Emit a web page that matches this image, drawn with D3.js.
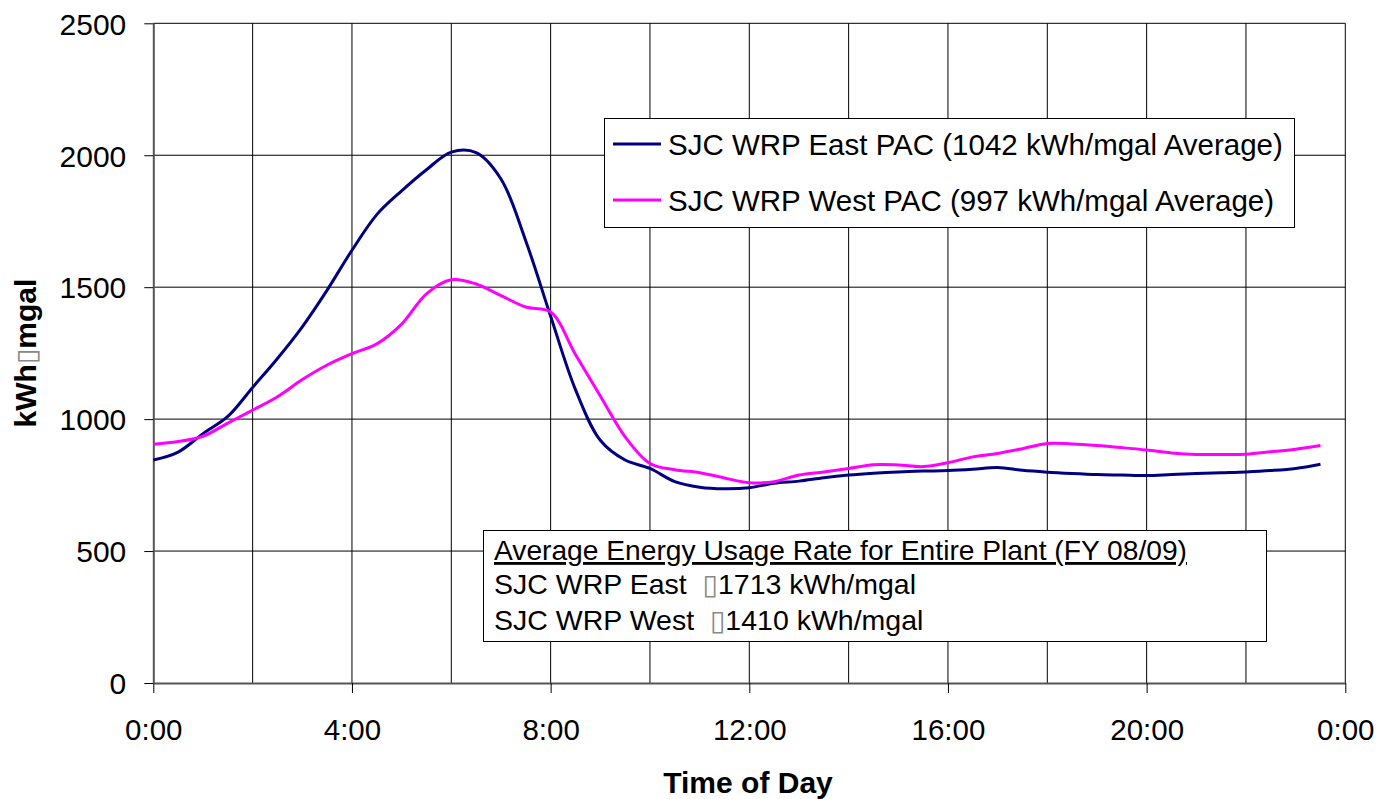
<!DOCTYPE html>
<html>
<head>
<meta charset="utf-8">
<script src="https://cdn.jsdelivr.net/npm/d3@7/dist/d3.min.js"></script>
<style>
  html, body { margin: 0; padding: 0; background: #fff; }
  svg { display: block; font-family: "Liberation Sans", Arial, sans-serif; }
</style>
</head>
<body>
<svg id="chart" width="1396" height="799"></svg>
<script>
// ---- Data ----
const times = ["0:00","0:30","1:00","1:30","2:00","2:30","3:00","3:30","4:00","4:30","5:00","5:30",
  "6:00","6:30","7:00","7:30","8:00","8:30","9:00","9:30","10:00","10:30","11:00","11:30",
  "12:00","12:30","13:00","13:30","14:00","14:30","15:00","15:30","16:00","16:30","17:00","17:30",
  "18:00","18:30","19:00","19:30","20:00","20:30","21:00","21:30","22:00","22:30","23:00","23:30"];

const eastValues = [845, 875, 945, 1010, 1120, 1230, 1350, 1489, 1640, 1775, 1865, 1945,
  2012, 2010, 1910, 1675, 1390, 1112, 920, 845, 813, 763, 742, 736,
  740, 757, 765, 778, 788, 795, 800, 803, 805, 810, 817, 806,
  799, 794, 790, 788, 786, 790, 794, 797, 800, 805, 813, 829];

const westValues = [905, 915, 935, 985, 1034, 1085, 1150, 1205, 1248, 1285, 1360, 1475,
  1528, 1512, 1468, 1425, 1406, 1245, 1088, 933, 832, 808, 797, 777,
  759, 763, 788, 800, 813, 827, 826, 820, 835, 857, 870, 888,
  908, 906, 900, 892, 883, 872, 866, 866, 867, 876, 886, 900];

const seriesNames = ["SJC WRP East PAC (1042 kWh/mgal Average)", "SJC WRP West PAC (997 kWh/mgal Average)"];
const seriesColors = ["#000080", "#FF00FF"];

const xTickHours = [0, 4, 8, 12, 16, 20, 24];
const xTickLabels = ["0:00", "4:00", "8:00", "12:00", "16:00", "20:00", "0:00"];
const xGridHours = [2, 4, 6, 8, 10, 12, 14, 16, 18, 20, 22, 24];
const yTicks = [0, 500, 1000, 1500, 2000, 2500];

const noteTitle = "Average Energy Usage Rate for Entire Plant (FY 08/09)";
const noteRows = [["SJC WRP East  ", "\u25AF", "1713 kWh/mgal"], ["SJC WRP West  ", "\u25AF", "1410 kWh/mgal"]];

// ---- Layout ----
const svg = d3.select("#chart");
const pL = 153.3, pR = 1345.3, pT = 23.3, pB = 683;
const FONT = 29.5;
const NOTE_FONT = 28.5;

const toHours = t => { const [h, m] = t.split(":").map(Number); return h + m / 60; };

const x = d3.scaleLinear().domain([0, 24]).range([pL, pR]);
const y = d3.scaleLinear().domain([0, 2500]).range([pB, pT]);

// Gridlines
const grid = svg.append("g");
grid.selectAll("line.h").data(yTicks.filter(d => d > 0)).join("line")
  .attr("x1", pL).attr("x2", pR).attr("y1", d => y(d)).attr("y2", d => y(d))
  .attr("stroke", "#000").attr("stroke-width", 1);
grid.selectAll("line.v").data(xGridHours).join("line")
  .attr("x1", d => x(d)).attr("x2", d => x(d)).attr("y1", pT).attr("y2", pB)
  .attr("stroke", "#000").attr("stroke-width", 1);

// Axes
const xAxis = d3.axisBottom(x).tickValues(xTickHours).tickFormat((d, i) => xTickLabels[i])
  .tickSizeInner(10).tickSizeOuter(0).tickPadding(24);
const gx = svg.append("g").attr("transform", `translate(0,${pB})`).call(xAxis);
gx.select(".domain").attr("stroke", "#555").attr("stroke-width", 2);
gx.selectAll(".tick line").attr("stroke", "#000");
gx.selectAll(".tick text").attr("font-size", FONT).attr("font-family", "Liberation Sans, Arial, sans-serif")
  .attr("fill", "#000").attr("dy", 0).attr("y", 57);

const yAxis = d3.axisLeft(y).tickValues(yTicks).tickFormat(d3.format("d"))
  .tickSizeInner(9).tickSizeOuter(0).tickPadding(18);
const gy = svg.append("g").attr("transform", `translate(${pL},0)`).call(yAxis);
gy.select(".domain").attr("stroke", "#555").attr("stroke-width", 2);
gy.selectAll(".tick line").attr("stroke", "#000");
gy.selectAll(".tick text").attr("font-size", 30).attr("font-family", "Liberation Sans, Arial, sans-serif")
  .attr("fill", "#000").attr("dy", "0.36em");

// Lines
const hours = times.map(toHours);
const line = d3.line().x(d => x(d[0])).y(d => y(d[1])).curve(d3.curveCatmullRom.alpha(0.5));
[eastValues, westValues].forEach((vals, i) => {
  svg.append("path")
    .datum(hours.map((h, j) => [h, vals[j]]))
    .attr("d", line).attr("fill", "none")
    .attr("stroke", seriesColors[i]).attr("stroke-width", 3)
    .attr("stroke-linejoin", "round");
});

// Axis titles
svg.append("text").attr("x", 748).attr("y", 793).attr("text-anchor", "middle")
  .attr("font-size", 30).attr("font-weight", "bold").text("Time of Day");

const yt = svg.append("text").attr("transform", "translate(36,353) rotate(-90)")
  .attr("text-anchor", "middle").attr("font-size", 30).attr("font-weight", "bold");
yt.append("tspan").text("kWh");
yt.append("tspan").attr("font-weight", "normal").attr("fill", "#888").attr("font-family", "DejaVu Sans").attr("font-size", 28).text("\u25AF");
yt.append("tspan").text("mgal");

// Legend
const lg = svg.append("g");
lg.append("rect").attr("x", 604.5).attr("y", 118.5).attr("width", 690).attr("height", 109)
  .attr("fill", "#fff").attr("stroke", "#000").attr("stroke-width", 1);
seriesNames.forEach((name, i) => {
  const cy = 144 + i * 56;
  lg.append("line").attr("x1", 613).attr("x2", 661).attr("y1", cy).attr("y2", cy)
    .attr("stroke", seriesColors[i]).attr("stroke-width", 3);
  lg.append("text").attr("x", 668).attr("y", cy + 11).attr("font-size", FONT).text(name);
});

// Note box
const nb = svg.append("g");
nb.append("rect").attr("x", 483.5).attr("y", 530.5).attr("width", 783).attr("height", 111)
  .attr("fill", "#fff").attr("stroke", "#000").attr("stroke-width", 1);
nb.append("text").attr("x", 494).attr("y", 560).attr("font-size", NOTE_FONT)
  .attr("text-decoration", "underline")
  .attr("textLength", 693).attr("lengthAdjust", "spacingAndGlyphs").text(noteTitle);
noteRows.forEach((r, i) => {
  const t = nb.append("text").attr("x", 494).attr("y", 594 + i * 36).attr("font-size", NOTE_FONT)
    .attr("xml:space", "preserve").style("white-space", "pre");
  t.append("tspan").text(r[0]);
  t.append("tspan").attr("fill", "#888").attr("font-family", "DejaVu Sans").attr("font-size", 28).text(r[1]);
  t.append("tspan").text(r[2]);
});
</script>
</body>
</html>
